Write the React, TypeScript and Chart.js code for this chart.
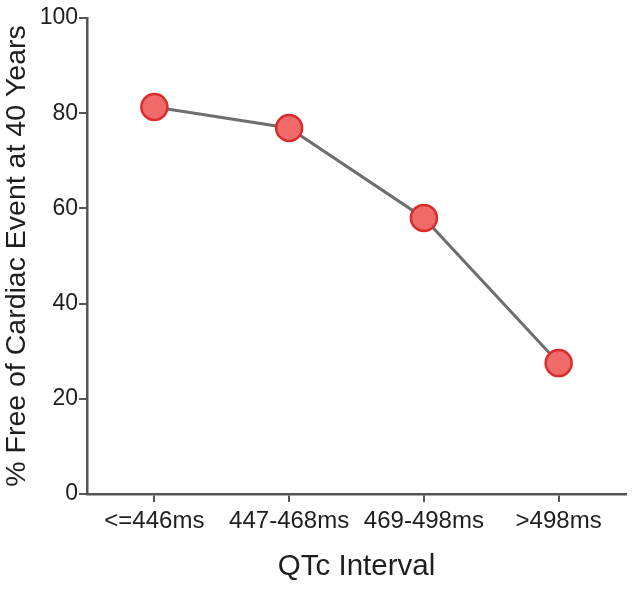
import React, { useEffect, useRef } from "react";
import { Chart, registerables } from "chart.js";

Chart.register(...registerables);

const categories = ["<=446ms", "447-468ms", "469-498ms", ">498ms"];
const freeOfEvent = [81.3, 76.9, 58.0, 27.5];
const yTicks = [0, 20, 40, 60, 80, 100];

const FONT = "'Liberation Sans', Arial, Helvetica, sans-serif";
const AXIS_COLOR = "#555555";
const TEXT_COLOR = "#1e1e1e";

export default function App() {
  const canvasRef = useRef<HTMLCanvasElement | null>(null);

  useEffect(() => {
    if (!canvasRef.current) return;
    const chart = new Chart(canvasRef.current, {
      type: "line",
      data: {
        labels: categories,
        datasets: [
          {
            data: freeOfEvent,
            borderColor: "#6e6e6e",
            borderWidth: 3,
            pointRadius: 13,
            pointHoverRadius: 13,
            pointBackgroundColor: "#f06a6a",
            pointBorderColor: "#dc2b2b",
            pointBorderWidth: 2.5,
            tension: 0,
            fill: false,
            clip: false,
          },
        ],
      },
      options: {
        animation: false,
        responsive: false,
        maintainAspectRatio: false,
        layout: { autoPadding: false, padding: { left: 0, right: 7, top: 18, bottom: 0 } },
        plugins: {
          legend: { display: false },
          tooltip: { enabled: false },
        },
        scales: {
          x: {
            type: "category",
            offset: true,
            grid: {
              drawOnChartArea: false,
              drawTicks: true,
              tickLength: 8,
              color: AXIS_COLOR,
              lineWidth: 2,
              offset: false,
            },
            border: { display: true, color: AXIS_COLOR, width: 2.5 },
            ticks: {
              color: TEXT_COLOR,
              font: { family: FONT, size: 24 },
              padding: 5,
              maxRotation: 0,
              autoSkip: false,
            },
            title: {
              display: true,
              text: "QTc Interval",
              color: TEXT_COLOR,
              font: { family: FONT, size: 29.5 },
              padding: { top: 0, bottom: 5 },
            },
            afterFit: (scale: any) => {
              scale.height = 96;
              scale.paddingLeft = 0;
              scale.paddingRight = 0;
            },
          },
          y: {
            min: 0,
            max: 100,
            afterBuildTicks: (scale: any) => {
              scale.ticks = yTicks.map((v) => ({ value: v }));
            },
            grid: {
              drawOnChartArea: false,
              drawTicks: true,
              tickLength: 8,
              color: AXIS_COLOR,
              lineWidth: 2,
            },
            border: { display: true, color: AXIS_COLOR, width: 2.5 },
            ticks: {
              color: TEXT_COLOR,
              font: { family: FONT, size: 23 },
              padding: 1,
            },
            title: {
              display: true,
              text: "% Free of Cardiac Event at 40 Years",
              color: TEXT_COLOR,
              font: { family: FONT, size: 28.5 },
              padding: 0,
            },
            afterFit: (scale: any) => {
              scale.width = 87;
              scale.paddingTop = 0;
              scale.paddingBottom = 0;
            },
          },
        },
      },
    });
    return () => chart.destroy();
  }, []);

  return (
    <div
      style={{
        position: "fixed",
        left: 0,
        top: 0,
        width: 633,
        height: 590,
        background: "#ffffff",
      }}
    >
      <canvas ref={canvasRef} width={633} height={590} />
    </div>
  );
}
